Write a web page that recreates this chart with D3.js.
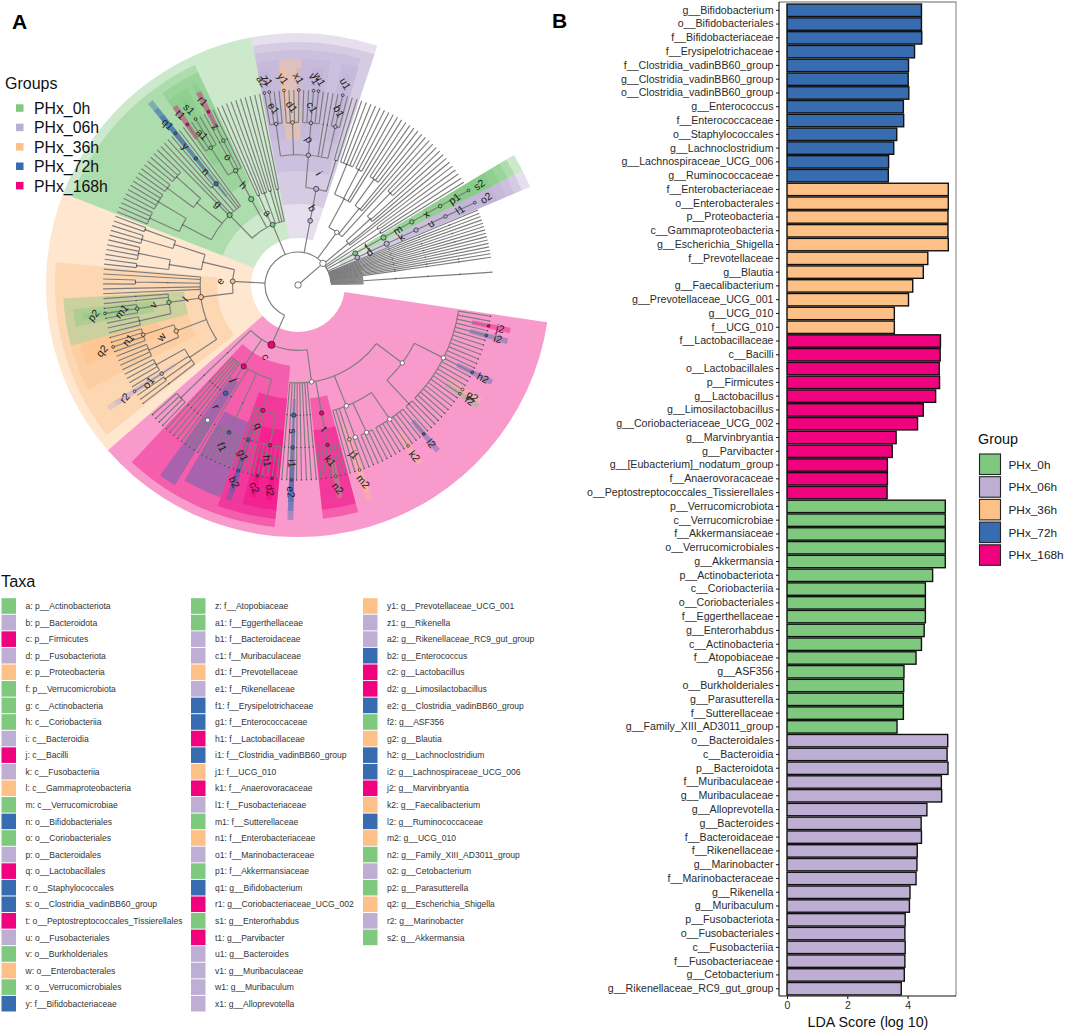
<!DOCTYPE html>
<html><head><meta charset="utf-8">
<script src="https://cdn.jsdelivr.net/npm/d3@7"></script>
<style>
html,body{margin:0;padding:0;background:#fff}
svg{display:block;font-family:"Liberation Sans",Arial,sans-serif}
</style></head><body>
<svg id="chart" width="1065" height="1032" viewBox="0 0 1065 1032"></svg>
<script>
// ---------- groups ----------
const groupNames = ["PHx_0h","PHx_06h","PHx_36h","PHx_72h","PHx_168h"];
const groupColors = ["#7FC97F","#BEAED4","#FDC086","#386CB0","#F0027F"];

// ---------- taxa legend (key, name, group index) ----------
const taxaKeys = ["a","b","c","d","e","f","g","h","i","j","k","l","m","n","o","p","q","r","s","t","u","v","w","x","y",
 "z","a1","b1","c1","d1","e1","f1","g1","h1","i1","j1","k1","l1","m1","n1","o1","p1","q1","r1","s1","t1","u1","v1","w1","x1",
 "y1","z1","a2","b2","c2","d2","e2","f2","g2","h2","i2","j2","k2","l2","m2","n2","o2","p2","q2","r2","s2"];
const taxaNames = ["p__Actinobacteriota","p__Bacteroidota","p__Firmicutes","p__Fusobacteriota","p__Proteobacteria","p__Verrucomicrobiota",
 "c__Actinobacteria","c__Coriobacteriia","c__Bacteroidia","c__Bacilli","c__Fusobacteriia","c__Gammaproteobacteria","c__Verrucomicrobiae",
 "o__Bifidobacteriales","o__Coriobacteriales","o__Bacteroidales","o__Lactobacillales","o__Staphylococcales","o__Clostridia_vadinBB60_group",
 "o__Peptostreptococcales_Tissierellales","o__Fusobacteriales","o__Burkholderiales","o__Enterobacterales","o__Verrucomicrobiales","f__Bifidobacteriaceae",
 "f__Atopobiaceae","f__Eggerthellaceae","f__Bacteroidaceae","f__Muribaculaceae","f__Prevotellaceae","f__Rikenellaceae","f__Erysipelotrichaceae",
 "f__Enterococcaceae","f__Lactobacillaceae","f__Clostridia_vadinBB60_group","f__UCG_010","f__Anaerovoracaceae","f__Fusobacteriaceae","f__Sutterellaceae",
 "f__Enterobacteriaceae","f__Marinobacteraceae","f__Akkermansiaceae","g__Bifidobacterium","g__Coriobacteriaceae_UCG_002","g__Enterorhabdus","g__Parvibacter",
 "g__Bacteroides","g__Muribaculaceae","g__Muribaculum","g__Alloprevotella",
 "g__Prevotellaceae_UCG_001","g__Rikenella","g__Rikenellaceae_RC9_gut_group","g__Enterococcus","g__Lactobacillus","g__Limosilactobacillus",
 "g__Clostridia_vadinBB60_group","g__ASF356","g__Blautia","g__Lachnoclostridium","g__Lachnospiraceae_UCG_006","g__Marvinbryantia","g__Faecalibacterium",
 "g__Ruminococcaceae","g__UCG_010","g__Family_XIII_AD3011_group","g__Cetobacterium","g__Parasutterella","g__Escherichia_Shigella","g__Marinobacter","g__Akkermansia"];
const taxaGroups = [0,1,4,1,2,0,0,0,1,4,1,2,0,3,0,1,4,3,3,4,1,0,2,0,3,
 0,0,1,1,2,1,3,3,4,3,2,4,1,0,2,1,0,3,4,0,4,1,1,1,1,
 2,1,1,3,4,4,3,0,2,3,3,4,2,3,2,0,1,0,2,1,0];

// ---------- bar chart ----------
const barLabels = ["g__Bifidobacterium","o__Bifidobacteriales","f__Bifidobacteriaceae","f__Erysipelotrichaceae","f__Clostridia_vadinBB60_group","g__Clostridia_vadinBB60_group","o__Clostridia_vadinBB60_group","g__Enterococcus","f__Enterococcaceae","o__Staphylococcales","g__Lachnoclostridium","g__Lachnospiraceae_UCG_006","g__Ruminococcaceae",
 "f__Enterobacteriaceae","o__Enterobacterales","p__Proteobacteria","c__Gammaproteobacteria","g__Escherichia_Shigella","f__Prevotellaceae","g__Blautia","g__Faecalibacterium","g__Prevotellaceae_UCG_001","g__UCG_010","f__UCG_010",
 "f__Lactobacillaceae","c__Bacilli","o__Lactobacillales","p__Firmicutes","g__Lactobacillus","g__Limosilactobacillus","g__Coriobacteriaceae_UCG_002","g__Marvinbryantia","g__Parvibacter","g__[Eubacterium]_nodatum_group","f__Anaerovoracaceae","o__Peptostreptococcales_Tissierellales",
 "p__Verrucomicrobiota","c__Verrucomicrobiae","f__Akkermansiaceae","o__Verrucomicrobiales","g__Akkermansia","p__Actinobacteriota","c__Coriobacteriia","o__Coriobacteriales","f__Eggerthellaceae","g__Enterorhabdus","c__Actinobacteria","f__Atopobiaceae","g__ASF356","o__Burkholderiales","g__Parasutterella","f__Sutterellaceae","g__Family_XIII_AD3011_group",
 "o__Bacteroidales","c__Bacteroidia","p__Bacteroidota","f__Muribaculaceae","g__Muribaculaceae","g__Alloprevotella","g__Bacteroides","f__Bacteroidaceae","f__Rikenellaceae","g__Marinobacter","f__Marinobacteraceae","g__Rikenella","g__Muribaculum","p__Fusobacteriota","o__Fusobacteriales","c__Fusobacteriia","f__Fusobacteriaceae","g__Cetobacterium","g__Rikenellaceae_RC9_gut_group"];
const barValues = [4.46,4.46,4.47,4.23,4.03,4.02,4.04,3.86,3.87,3.64,3.54,3.37,3.36,
 5.35,5.35,5.34,5.34,5.35,4.67,4.52,4.17,4.03,3.56,3.56,
 5.09,5.08,5.05,5.06,4.93,4.52,4.33,3.62,3.49,3.33,3.33,3.32,
 5.25,5.25,5.25,5.25,5.25,4.83,4.59,4.59,4.59,4.55,4.46,4.28,3.88,3.87,3.86,3.86,3.65,
 5.33,5.31,5.34,5.12,5.13,4.64,4.45,4.46,4.32,4.31,4.28,4.08,4.06,3.92,3.91,3.92,3.91,3.89,3.79];
const barGroupCounts = [[3,13],[2,11],[4,12],[0,17],[1,19]];
const xTicks = [0,2,4];

// ---------- cladogram topology, clockwise, one string per phylum ----------
// letter = taxon key, _ = unnamed node, _* = open circle node, N = N leaves, N. = N leaves with end dots,
// ~N = N short stubs, +W = empty slot of weight W
const singleOrder = "_(_(1.))";
const firmicutes = "c*(_*(" +
  "_*(_*(2.,j2,1.,i2,7.,h2,3.,g2,f2,7.),_(3.))," +
  "_*(_*(l2,3.,k2,4.),_*(4.),_*(2.),j1(m2),2.)," +
  "t(k1(2.,n2,3.))," +
  [singleOrder,singleOrder,singleOrder,singleOrder,singleOrder,"s(i1(e2))",singleOrder,singleOrder].join(",") +
  "),j(q(h1(1.,d2,2.,c2,1.),_(1.),_(1.),g1(b2),_(1.)),_(f1(7.)),"+singleOrder+",r(_*(3.)),"+
  [singleOrder,singleOrder,singleOrder,singleOrder,singleOrder].join(",") +
  "),_(_(_(4.))))";
const proteobacteria = "e(+2,l(_(_(1.),_(2),o1(r2),_(4)),w(_(4),n1(1.,q2,2.)),v(_(3),m1(1.,p2,1.),_(1),_(1)),1,1,_(_(2)),1,1)," +
  "_(_(_(2),_(4)),_(_(3),_(2))))";
const actinobacteriota = "a(g(_(_(4),_(5)),_(_(3),_(4)),1,1,_(2),n(y(q1)),1,1),h(o(a1(t1,1,s1,1),_(1),z(r1),_(1))),_(2),_(3),_(2),1,_(2))";
const bacteroidota = "b(i(p(e1(a2,z1,2),d1(y1,2,x1),c1(2,v1,w1,1),_(1),_(1),b1(1,u1,1)),_(2)))";
const otherPhylumA = "_*(_(_(5),_(3),2),_(_(4),2),1)";
const otherPhylumB = "_(_(_(3),2),2)";
const otherPhylumC = "_(_(2))";
const otherPhylumD = "_(_(2))";
const verrucomicrobiota = "f(m(x(p1(s2))))";
const fusobacteriota = "d(k(u(l1(o2))))";
const chainDots = "_(_(_(_(1))))";
const fanPhyla = ["1","~2",chainDots,"~2","1","~2","1","~2",chainDots,"~2","1","~2","1","~2",chainDots,"~2","1","~2","1","~2",chainDots,"~2","1","~2","1","~2",chainDots,"~2",chainDots,"~20",chainDots,"~15"];
const phylaOrder = [firmicutes,proteobacteria,actinobacteriota,bacteroidota,otherPhylumA,otherPhylumB,otherPhylumC,otherPhylumD,verrucomicrobiota,fusobacteriota,...fanPhyla];

// ---------- geometry ----------
const cx = 298, cy = 285;
const startDeg = 98.5, unitDeg = 1.45;
const svg = d3.select("#chart");
const rad = d3.scaleLinear().domain([1,6]).range([33,195]);
const RAD = Math.PI/180;
const colorOf = k => groupColors[taxaGroups[taxaKeys.indexOf(k)]];

function parseTree(str){
  let i = 0;
  function kids(){
    const out = [];
    while(true){
      out.push(...item());
      if(str[i]===","){ i++; continue; }
      if(str[i]===")"){ i++; break; }
      break;
    }
    return out;
  }
  function item(){
    let t = "";
    while(i<str.length && !",()".includes(str[i])) t += str[i++];
    if(str[i]==="("){
      i++;
      const open = t.endsWith("*");
      const name = t.replace("*","");
      return [{name, open: open && name==="_", big: open && name!=="_", children:kids()}];
    }
    if(/^\d+\.?$/.test(t)){
      const n = parseInt(t), dot = t.endsWith(".");
      return d3.range(n).map(()=>({name:"_",dot}));
    }
    if(t[0]==="~") return d3.range(+t.slice(1)).map(()=>({name:"_",kind:"short"}));
    if(t[0]==="+") return [{name:"_",kind:"gap",w:+t.slice(1)}];
    return [{name:t}];
  }
  return item();
}
const phylaNodes = phylaOrder.flatMap(s=>parseTree(s));
const root = d3.hierarchy({name:"root",children:[{name:"bacteria",open:true,children:phylaNodes}]});

// angular layout by cumulative leaf weight
const phylumOf = n => n.ancestors().find(a=>a.depth===2);
const angleOf = d3.scaleLinear().domain([0,1]).range([startDeg,startDeg+unitDeg]);
let cum = 0;
root.leaves().forEach(l=>{
  const ph = phylumOf(l), nL = ph.leaves().length;
  let w = 1;
  if(l.data.kind==="short") w = .13;
  else if(l.data.kind==="gap") w = l.data.w;
  else if(nL===1) w = ph.data.name!=="_" ? 2.8 : .45;
  l.x0 = cum; l.x1 = cum+w; cum += w;
  l.angle = angleOf(l.x0+w/2);
  l.hidden = !!l.data.kind;
});
root.eachAfter(n=>{
  if(n.children){
    n.x0 = d3.min(n.children,c=>c.x0);
    n.x1 = d3.max(n.children,c=>c.x1);
    const real = n.children.filter(c=>!c.hidden);
    n.angle = d3.mean(real,c=>c.angle);
    n.hidden = real.length===0;
  }
});
const nodeR = n => n.children ? rad(n.depth) : (n.data.kind==="short" ? rad(2) : rad(6));
const polar = (r,deg)=>[r*Math.sin(deg*RAD),-r*Math.cos(deg*RAD)];

const gTree = svg.append("g").attr("transform",`translate(${cx},${cy})`);

// clade sectors
const sectorInner = d3.scaleOrdinal().domain([2,3,4,5,6]).range([47,81,114,146,178]);
const sectorOuter = d3.scaleOrdinal().domain([2,3,4,5,6]).range([252,243,235,226,217]);
const sectorArc = d3.arc();
const labeled = root.descendants().filter(n=>taxaKeys.includes(n.data.name) && !n.data.kind);
gTree.append("g").selectAll("path")
  .data(labeled.slice().sort((a,b)=>a.depth-b.depth))
  .join("path")
  .attr("d",n=>sectorArc({innerRadius:sectorInner(n.depth),outerRadius:sectorOuter(n.depth),
     startAngle:angleOf(n.x0)*RAD,endAngle:angleOf(n.x1)*RAD}))
  .attr("fill",n=>colorOf(n.data.name))
  .attr("fill-opacity",.4);

// branches
function branchPath(n){
  const p = d3.path();
  if(n.depth===0) return "";
  const r1 = nodeR(n);
  const [x1,y1] = polar(r1,n.angle);
  if(n.depth===1){ p.moveTo(0,0); p.lineTo(x1,y1); }
  else { const [x0,y0] = polar(rad(n.depth-1),n.angle); p.moveTo(x0,y0); p.lineTo(x1,y1); }
  if(n.children){
    const real = n.children.filter(c=>!c.hidden);
    const a0 = d3.min(real,c=>c.angle), a1 = d3.max(real,c=>c.angle);
    if(a1>a0){
      const [xa,ya] = polar(r1,a0);
      p.moveTo(xa,ya);
      p.arc(0,0,r1,(a0-90)*RAD,(a1-90)*RAD,false);
    }
  }
  return p.toString();
}
const drawn = root.descendants().filter(n=>n.depth>0 && n.data.kind!=="gap");
gTree.append("g").attr("fill","none")
  .selectAll("path").data(drawn).join("path")
  .attr("d",branchPath)
  .attr("stroke","#7d7d7d")
  .attr("stroke-width",n=>n.data.kind==="short"?.4:1.15);

// root marker and nodes
const nodeSize = d3.scaleOrdinal().domain([2,3,4,5,6]).range([2.4,2.6,2.2,1.8,1.4]);
const gNodes = gTree.append("g");
gNodes.selectAll("circle.tiny")
  .data(root.descendants().filter(n=>n.depth>=3 && n.data.name==="_" && !n.data.open && !n.data.kind && (n.children||n.data.dot)))
  .join("circle").attr("class","tiny")
  .attr("transform",n=>`translate(${polar(nodeR(n),n.angle)})`)
  .attr("r",.7).attr("fill","#444");
gNodes.selectAll("circle.open")
  .data(root.descendants().filter(n=>n.data.open||n.depth===0))
  .join("circle").attr("class","open")
  .attr("transform",n=>n.depth===0?"":`translate(${polar(nodeR(n),n.angle)})`)
  .attr("r",n=>n.depth<=1?3.2:2.2)
  .attr("fill","#fff").attr("stroke","#555").attr("stroke-width",.8);
gNodes.selectAll("circle.sig")
  .data(labeled).join("circle").attr("class","sig")
  .attr("transform",n=>`translate(${polar(nodeR(n),n.angle)})`)
  .attr("r",n=>n.data.big?3.6:nodeSize(n.depth))
  .attr("fill",n=>colorOf(n.data.name)).attr("stroke","#222").attr("stroke-width",.7);

// clade letters
function labelTilt(a){
  a = ((a%360)+360)%360;
  if(a<30) return 60;
  if(a<90) return -35;
  if(a<130) return a-90;
  if(a<170) return 50;
  if(a<190) return 85;
  if(a<230) return 65;
  if(a<300) return -50;
  if(a<350) return 45;
  return 55;
}
const labelGap = d3.scaleOrdinal().domain([2,3,4,5,6]).range([13,16,16,16,12]);
gTree.append("g").selectAll("text").data(labeled).join("text")
  .attr("transform",n=>`translate(${polar(nodeR(n)+labelGap(n.depth),n.angle)}) rotate(${labelTilt(n.angle)})`)
  .attr("text-anchor","middle").attr("dominant-baseline","central")
  .attr("font-size",10.5).attr("fill","#1c1c1c").text(n=>n.data.name);

// groups legend (panel A)
svg.append("text").attr("x",5).attr("y",89).attr("font-size",16).attr("fill","#111").text("Groups");
const gL = svg.append("g").selectAll("g").data(groupNames).join("g")
  .attr("transform",(d,i)=>`translate(16,${108+i*19.4})`);
gL.append("rect").attr("x",0).attr("y",-3.7).attr("width",7.5).attr("height",7.5).attr("fill",(d,i)=>groupColors[i]);
gL.append("text").attr("x",18).attr("y",6).attr("font-size",15.8).attr("fill","#111").text(d=>d);

// panel tags
svg.append("text").attr("x",12).attr("y",29).attr("font-size",21).attr("font-weight","bold").text("A");
svg.append("text").attr("x",552).attr("y",28).attr("font-size",21).attr("font-weight","bold").text("B");

// taxa legend
svg.append("text").attr("x",1).attr("y",587).attr("font-size",16.3).attr("fill","#111").text("Taxa");
const colSize = 25, rowH = 16.57;
const colX = [1.5,191,363];
const gT = svg.append("g").selectAll("g").data(taxaKeys).join("g")
  .attr("transform",(d,i)=>`translate(${colX[Math.floor(i/colSize)]},${606+(i%colSize)*rowH})`);
gT.append("rect").attr("x",0).attr("y",-7.8).attr("width",14.5).attr("height",15.6).attr("fill",(d,i)=>groupColors[taxaGroups[i]]);
gT.append("text").attr("x",24).attr("y",3.1).attr("font-size",8.55).attr("fill","#333")
  .text((d,i)=>`${d}: ${taxaNames[i]}`);

// ---------- panel B ----------
const barGroups = barGroupCounts.flatMap(([g,n])=>d3.range(n).map(()=>g));
const x = d3.scaleLinear().domain([0,2]).range([787,847.3]);
const y = d3.scaleBand().domain(barLabels).range([3.4,995.6]).paddingInner(.1).paddingOuter(.05);
const gB = svg.append("g");
gB.append("path").attr("d","M779,2H956V996").attr("fill","none").attr("stroke","#9a9a9a").attr("stroke-width",1.3);
gB.selectAll("rect.bar").data(barLabels).join("rect").attr("class","bar")
  .attr("x",x(0)).attr("y",d=>y(d)).attr("height",y.bandwidth())
  .attr("width",(d,i)=>x(barValues[i])-x(0))
  .attr("fill",(d,i)=>groupColors[barGroups[i]])
  .attr("stroke","#111").attr("stroke-width",1.4);
const yAxis = gB.append("g").attr("transform","translate(779,0)")
  .call(d3.axisLeft(y).tickSize(3).tickPadding(2.5).tickSizeOuter(0));
yAxis.selectAll("text").attr("font-size",10.65).attr("fill","#2b2b2b").attr("font-family",'"Liberation Sans",Arial,sans-serif');
yAxis.select(".domain").attr("d","M0,2V996").attr("stroke","#111").attr("stroke-width",1.1);
yAxis.selectAll("line").attr("stroke","#111");
const xAxis = gB.append("g").attr("transform","translate(0,996)")
  .call(d3.axisBottom(x).tickValues(xTicks).tickFormat(d3.format("d")).tickSize(3).tickPadding(3).tickSizeOuter(0));
xAxis.select(".domain").attr("d","M779,0H956").attr("stroke","#111").attr("stroke-width",1.1);
xAxis.selectAll("text").attr("font-size",10.5).attr("fill","#2b2b2b").attr("font-family",'"Liberation Sans",Arial,sans-serif');
xAxis.selectAll("line").attr("stroke","#111");
svg.append("text").attr("x",868).attr("y",1027).attr("text-anchor","middle").attr("font-size",14.3).attr("fill","#111").text("LDA Score (log 10)");

// group legend (panel B)
svg.append("text").attr("x",978).attr("y",444).attr("font-size",14.4).attr("fill","#111").text("Group");
const gG = svg.append("g").selectAll("g").data(groupNames).join("g")
  .attr("transform",(d,i)=>`translate(979.5,${454+i*22.7})`);
gG.append("rect").attr("width",21).attr("height",20.5).attr("fill",(d,i)=>groupColors[i]).attr("stroke","#222").attr("stroke-width",1.1);
gG.append("text").attr("x",29).attr("y",14.5).attr("font-size",11.8).attr("fill","#222").text(d=>d);
</script>
</body></html>
